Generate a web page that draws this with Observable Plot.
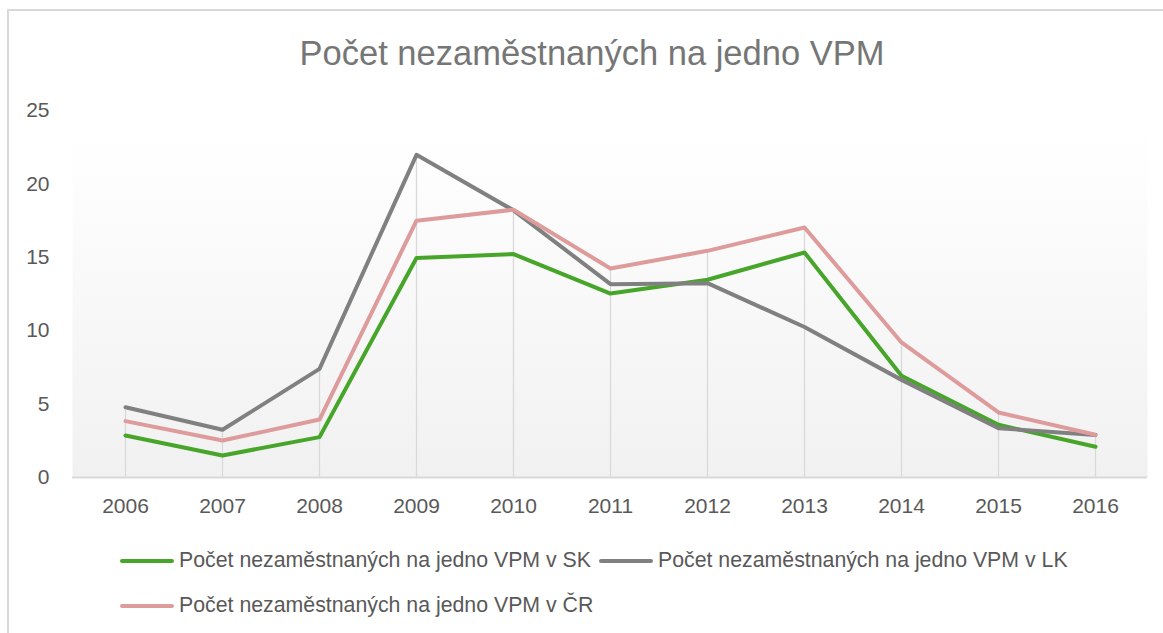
<!DOCTYPE html>
<html>
<head>
<meta charset="utf-8">
<script src="https://cdn.jsdelivr.net/npm/d3@7"></script>
<script src="https://cdn.jsdelivr.net/npm/@observablehq/plot@0.6"></script>
<style>
  html, body { margin: 0; padding: 0; background: #fff; }
  #wrap { position: relative; width: 1163px; height: 633px; overflow: hidden; font-family: "Liberation Sans", Arial, sans-serif; }
  #border { position: absolute; left: 7px; top: 9px; right: -10px; bottom: -10px; border-left: 2px solid #d9d9d9; border-top: 2px solid #d9d9d9; }
  #title { position: absolute; left: 0; top: 36px; width: 1184px; text-align: center; font-size: 34.5px; line-height: 34px; color: #767676; }
  #chart { position: absolute; left: 0; top: 90px; }
  #legend { position: absolute; left: 120px; top: 538px; width: 990px; display: flex; flex-wrap: wrap; column-gap: 8px; }
  .item { display: flex; align-items: center; height: 45px; font-size: 21.3px; color: #595959; white-space: nowrap; }
  .sw { width: 54px; height: 4px; border-radius: 2px; margin-right: 5px; }
</style>
</head>
<body>
<div id="wrap">
  <div id="border"></div>
  <div id="title"></div>
  <div id="chart"></div>
  <div id="legend"></div>
</div>
<script>
const titleText = "Počet nezaměstnaných na jedno VPM";
const years = ["2006","2007","2008","2009","2010","2011","2012","2013","2014","2015","2016"];
const seriesNames = [
  "Počet nezaměstnaných na jedno VPM v SK",
  "Počet nezaměstnaných na jedno VPM v LK",
  "Počet nezaměstnaných na jedno VPM v ČR"
];
const seriesColors = ["#47a52a", "#808080", "#de9b9b"];
const valuesSK = [2.86, 1.50, 2.75, 14.95, 15.22, 12.53, 13.47, 15.33, 6.93, 3.59, 2.09];
const valuesLK = [4.79, 3.25, 7.40, 21.98, 18.20, 13.17, 13.24, 10.25, 6.65, 3.36, 2.90];
const valuesCR = [3.84, 2.52, 3.95, 17.49, 18.24, 14.24, 15.44, 17.03, 9.20, 4.43, 2.91];
const yTicks = [0, 5, 10, 15, 20, 25];

const seriesValues = [valuesSK, valuesLK, valuesCR];
const rows = seriesNames.flatMap((name, i) => years.map((year, j) => ({series: name, year, value: seriesValues[i][j]})));
const drops = years.map((year, j) => ({year, max: d3.max(seriesValues, s => s[j])}));

document.getElementById("title").textContent = titleText;

const plot = Plot.plot({
  width: 1163,
  height: 440,
  marginTop: 20,
  marginBottom: 53,
  marginLeft: 72,
  marginRight: 16,
  style: {fontFamily: "'Liberation Sans', Arial, sans-serif", fontSize: "21px", color: "#595959", background: "transparent"},
  x: {type: "point", domain: years, padding: 0.5, label: null},
  y: {domain: [0, 25], label: null},
  color: {domain: seriesNames, range: seriesColors},
  marks: [
    Plot.frame({fill: "url(#plotBg)", stroke: null}),
    Plot.ruleX(drops, {x: "year", y1: 0, y2: "max", stroke: "#d9d9d9", strokeWidth: 1.3}),
    Plot.ruleY([0], {stroke: "#d9d9d9", strokeWidth: 2}),
    Plot.line(rows, {x: "year", y: "value", z: "series", stroke: "series", strokeWidth: 4, strokeLinejoin: "round", strokeLinecap: "round"}),
    Plot.axisX({tickSize: 0, tickPadding: 21, fontSize: 21, fill: "#595959"}),
    Plot.axisY({ticks: yTicks, tickSize: 0, tickPadding: 23, fontSize: 21, fill: "#595959"})
  ]
});

const ns = "http://www.w3.org/2000/svg";
const defs = document.createElementNS(ns, "defs");
defs.innerHTML = '<linearGradient id="plotBg" x1="0" y1="0" x2="0" y2="1">' +
  '<stop offset="0" stop-color="#ffffff"/><stop offset="0.12" stop-color="#fefefe"/><stop offset="1" stop-color="#f1f1f1"/></linearGradient>';
plot.insertBefore(defs, plot.firstChild);
document.getElementById("chart").appendChild(plot);

const legend = document.getElementById("legend");
seriesNames.forEach((name, i) => {
  const item = document.createElement("div");
  item.className = "item";
  const sw = document.createElement("span");
  sw.className = "sw";
  sw.style.background = seriesColors[i];
  const label = document.createElement("span");
  label.textContent = name;
  item.appendChild(sw);
  item.appendChild(label);
  legend.appendChild(item);
});
</script>
</body>
</html>
